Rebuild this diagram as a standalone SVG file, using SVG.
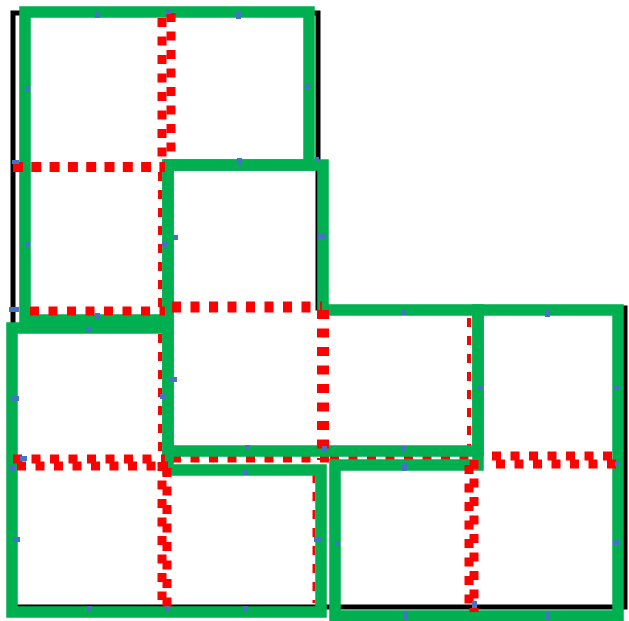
<svg xmlns="http://www.w3.org/2000/svg" width="629" height="621" viewBox="0 0 629 621">
<style>
.k{fill:none;stroke:#000;stroke-width:5}
.g{fill:none;stroke:#00B050;stroke-width:11.5;stroke-linejoin:miter}
.r{fill:none;stroke:#FF0000;stroke-width:9;stroke-dasharray:9 9.5}
.rt{fill:none;stroke:#FF0000;stroke-width:4;stroke-dasharray:9 9}
.b{fill:#4472C4}
</style>
<rect width="629" height="621" fill="#fff"/>
<g id="outline"><path class="k" d="M13,13 H318 V308 H625 V607 H13 Z"/></g>
<g id="grid-under">
<line class="rt" x1="160" y1="172" x2="160" y2="455"/>
<line class="rt" x1="469" y1="318" x2="469" y2="448"/>
<line class="rt" x1="314" y1="474" x2="314" y2="603" style="stroke-width:3"/>
<line class="r" x1="172" y1="459" x2="330" y2="459" style="stroke-width:7"/>
<line class="r" x1="330" y1="457" x2="478" y2="457" style="stroke-width:7"/>
</g>
<g id="tiles">
<g id="tile-top-left"><path class="g" d="M25,12 H309 V165 H168 V320 H25 Z"/></g>
<g id="tile-center"><path class="g" d="M168,165 H323 V310 H478 V451 H168 Z"/></g>
<g id="tile-bottom-left"><path class="g" d="M12,328 H168 V470 H321 V612 H12 Z"/></g>
<g id="tile-right"><path class="g" d="M478,310 H618 V616 H335 V465 H478 Z"/></g>
</g>
<g id="grid-lines">
<line class="r" x1="171" y1="13" x2="171" y2="160"/>
<line class="r" x1="162" y1="18" x2="162" y2="165"/>
<line class="r" x1="13" y1="167" x2="165" y2="167" style="stroke-width:10;stroke-dasharray:10 8.3"/>
<line class="r" x1="30" y1="311" x2="165" y2="311"/>
<line class="r" x1="172" y1="307" x2="322" y2="307" style="stroke-width:11"/>
<line class="r" x1="323" y1="310" x2="323" y2="460" style="stroke-width:12"/>
<line class="r" x1="13" y1="459" x2="165" y2="459"/>
<line class="r" x1="17" y1="466" x2="168" y2="466"/>
<line class="r" x1="492" y1="456" x2="615" y2="456"/>
<line class="r" x1="496" y1="464" x2="619" y2="464"/>
<line class="r" x1="162" y1="462" x2="162" y2="600"/>
<line class="r" x1="167" y1="468" x2="167" y2="610"/>
<line class="r" x1="469" y1="465" x2="469" y2="605"/>
<line class="r" x1="474" y1="460" x2="474" y2="612"/>
</g>
<g id="points">
<rect class="b" x="95" y="11" width="5" height="7"/>
<rect class="b" x="236" y="12" width="5" height="7"/>
<rect class="b" x="166" y="9" width="5" height="5"/>
<rect class="b" x="25" y="86" width="5" height="5"/>
<rect class="b" x="305" y="84" width="5" height="5"/>
<rect class="b" x="12" y="160" width="7" height="4"/>
<rect class="b" x="237" y="158" width="5" height="7"/>
<rect class="b" x="315" y="157" width="4" height="4"/>
<rect class="b" x="25" y="242" width="5" height="5"/>
<rect class="b" x="162" y="242" width="5" height="5"/>
<rect class="b" x="173" y="235" width="5" height="5"/>
<rect class="b" x="318" y="234" width="7" height="5"/>
<rect class="b" x="9" y="307" width="10" height="5"/>
<rect class="b" x="95" y="313" width="5" height="7"/>
<rect class="b" x="86" y="327" width="5" height="5"/>
<rect class="b" x="170" y="377" width="7" height="5"/>
<rect class="b" x="160" y="394" width="5" height="5"/>
<rect class="b" x="12" y="396" width="7" height="5"/>
<rect class="b" x="20" y="456" width="7" height="5"/>
<rect class="b" x="10" y="466" width="5" height="5"/>
<rect class="b" x="245" y="445" width="5" height="5"/>
<rect class="b" x="243" y="470" width="5" height="5"/>
<rect class="b" x="322" y="446" width="5" height="5"/>
<rect class="b" x="13" y="537" width="7" height="5"/>
<rect class="b" x="314" y="537" width="7" height="5"/>
<rect class="b" x="335" y="541" width="5" height="5"/>
<rect class="b" x="87" y="606" width="5" height="5"/>
<rect class="b" x="165" y="606" width="5" height="5"/>
<rect class="b" x="243" y="606" width="5" height="5"/>
<rect class="b" x="401" y="309" width="5" height="6"/>
<rect class="b" x="545" y="310" width="5" height="7"/>
<rect class="b" x="478" y="385" width="5" height="5"/>
<rect class="b" x="614" y="385" width="5" height="5"/>
<rect class="b" x="401" y="446" width="5" height="5"/>
<rect class="b" x="402" y="464" width="5" height="7"/>
<rect class="b" x="614" y="540" width="5" height="5"/>
<rect class="b" x="403" y="612" width="5" height="7"/>
<rect class="b" x="472" y="601" width="5" height="7"/>
<rect class="b" x="545" y="612" width="5" height="7"/>
<rect class="b" x="615" y="462" width="4" height="4"/>
</g>
</svg>
